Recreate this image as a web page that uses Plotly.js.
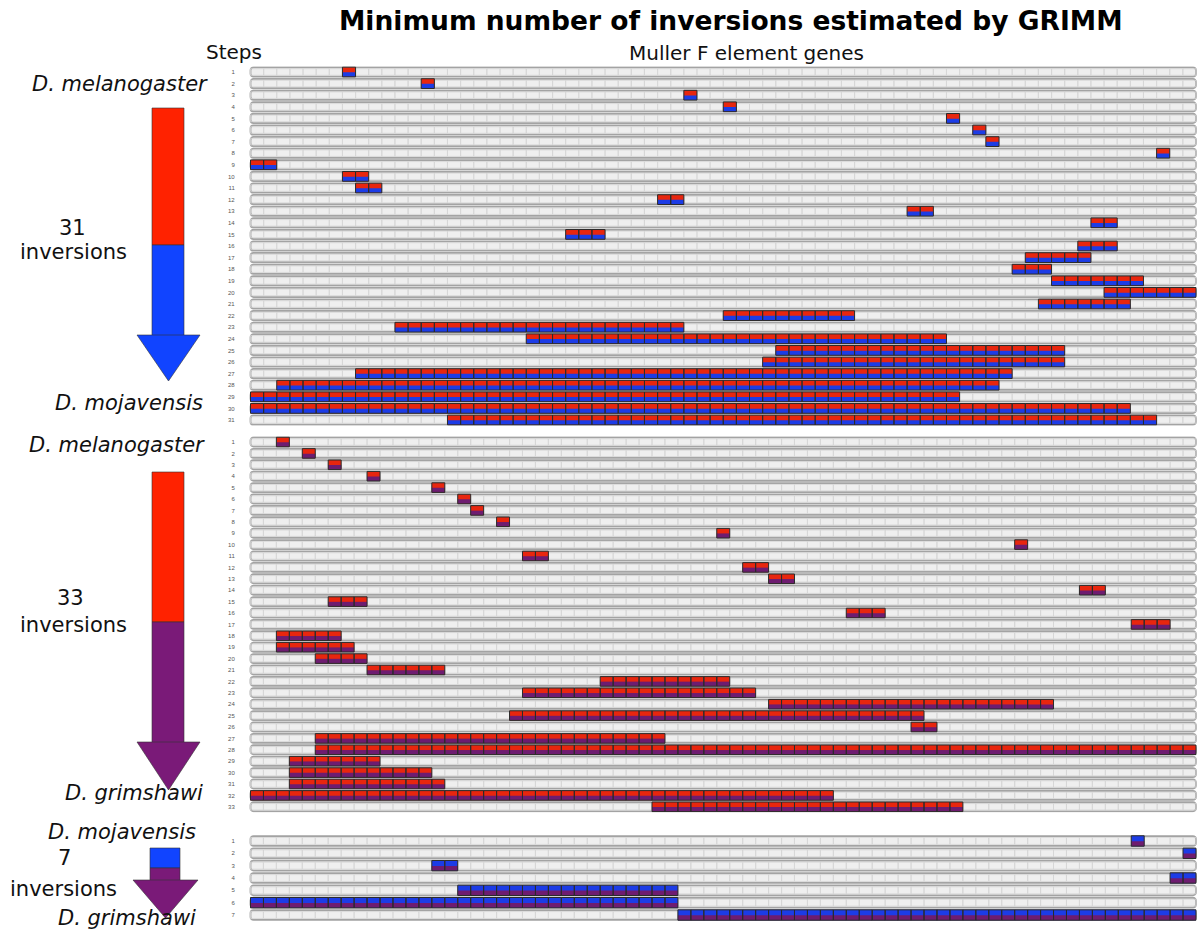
<!DOCTYPE html>
<html>
<head>
<meta charset="utf-8">
<script src="https://cdn.plot.ly/plotly-3.0.1.min.js"></script>
<style>html,body{margin:0;padding:0;background:#fff;}#chart{width:1204px;height:934px;}</style>
</head>
<body>
<div id="chart"></div>
<script>
// ---------- data ----------
const p1Genes = 72;
const p1Start = [7,13,33,36,53,55,56,69,0,7,8,31,50,64,24,63,59,58,61,65,60,36,11,21,40,39,8,2,0,0,15];
const p1Len   = [1,1,1,1,1,1,1,1,2,2,2,2,2,2,3,3,5,3,7,7,7,10,22,32,22,23,50,55,54,67,54];

const p2Genes = 73;
const p2Start = [2,4,6,9,14,16,17,19,36,59,21,38,40,64,6,46,68,2,2,5,9,27,21,40,20,51,5,5,3,3,3,0,31];
const p2Len   = [1,1,1,1,1,1,1,1,1,1,2,2,2,2,3,3,3,5,6,4,6,10,18,22,32,2,27,68,7,11,12,45,24];

const p3Genes = 73;
const p3Start = [68,72,14,71,16,0,33];
const p3Len   = [1,1,2,2,17,33,40];

const titleText = "Minimum number of inversions estimated by GRIMM";
const stepsLabel = "Steps";
const genesLabel = "Muller F element genes";

// ---------- colours ----------
const RED = '#e8260e', BLUE = '#1c3ce6', PURPLE = '#6e1c70';

const W = 1204, H = 934;
const px = x => x / W;
const py = y => 1 - y / H;
const FONT = 'DejaVu Sans, Liberation Sans, Arial, sans-serif';

const panels = [
  {genes: p1Genes, starts: p1Start, lens: p1Len, top: RED, bottom: BLUE, yTop: 66.2, yBot: 425.8},
  {genes: p2Genes, starts: p2Start, lens: p2Len, top: RED, bottom: PURPLE, yTop: 436.3, yBot: 812.5},
  {genes: p3Genes, starts: p3Start, lens: p3Len, top: BLUE, bottom: PURPLE, yTop: 834.8, yBot: 921.2}
];

const traces = [];
const layout = {
  width: W, height: H,
  margin: {l: 0, r: 0, t: 0, b: 0},
  paper_bgcolor: '#fff', plot_bgcolor: 'rgba(0,0,0,0)',
  showlegend: false, barmode: 'overlay', hovermode: false,
  font: {family: FONT, color: '#000'},
  shapes: [], annotations: []
};

const X0 = 250.5, X1 = 1196;
panels.forEach((p, k) => {
  const idx = k === 0 ? '' : String(k + 1);
  const xa = 'x' + idx, ya = 'y' + idx;
  const R = p.starts.length, N = p.genes;
  const cw = (X1 - X0) / N, pad = 0.12;
  layout['xaxis' + idx] = {
    domain: [(X0 - pad * cw) / W, (X1 + pad * cw) / W],
    range: [-pad, N + pad], anchor: ya,
    showgrid: false, zeroline: false, showticklabels: false, ticks: '', showline: false, fixedrange: true
  };
  const rows = [];
  for (let r = 1; r <= R; r++) rows.push(r);
  layout['yaxis' + idx] = {
    domain: [1 - p.yBot / H, 1 - p.yTop / H],
    range: [R + 0.5, 0.5], anchor: xa,
    tickmode: 'array', tickvals: rows, ticktext: rows.map(String),
    tickfont: {size: 6, color: '#555', family: 'Liberation Sans, Arial, sans-serif'},
    ticks: 'outside', ticklen: 12, tickcolor: 'rgba(0,0,0,0)',
    showgrid: false, zeroline: false, showline: false, fixedrange: true
  };
  // row frames
  traces.push({
    type: 'bar', orientation: 'h', xaxis: xa, yaxis: ya,
    y: rows, x: rows.map(() => N), base: rows.map(() => 0),
    width: 0.8,
    marker: {color: '#efefef', line: {color: '#a3a3a3', width: 1.8}, cornerradius: 3}
  });
  // cell grid
  const cy = [], cb = [], cx = [];
  rows.forEach(r => { for (let g = 0; g < N; g++) { cy.push(r); cb.push(g); cx.push(1); } });
  traces.push({
    type: 'bar', orientation: 'h', xaxis: xa, yaxis: ya,
    y: cy, x: cx, base: cb, width: 0.56,
    marker: {color: 'rgba(0,0,0,0)', line: {color: '#d6d6d6', width: 0.8}}
  });
  // highlighted (inverted) genes
  const hy = [], hb = [], hx = [];
  p.starts.forEach((s, i) => {
    for (let g = s; g < s + p.lens[i]; g++) { hy.push(i + 1); hb.push(g); hx.push(1); }
  });
  traces.push({
    type: 'bar', orientation: 'h', xaxis: xa, yaxis: ya,
    y: hy, x: hx, base: hb, width: 0.84, offset: -0.42,
    marker: {color: p.top, line: {width: 0}}
  });
  traces.push({
    type: 'bar', orientation: 'h', xaxis: xa, yaxis: ya,
    y: hy, x: hx, base: hb, width: 0.4, offset: 0.02,
    marker: {color: p.bottom, line: {width: 0}}
  });
  traces.push({
    type: 'bar', orientation: 'h', xaxis: xa, yaxis: ya,
    y: hy, x: hx, base: hb, width: 0.84, offset: -0.42,
    marker: {color: 'rgba(0,0,0,0)', line: {color: '#2b2b2b', width: 1}}
  });
});

// ---------- text ----------
function ann(text, x, y, opts) {
  layout.annotations.push(Object.assign({
    text: text, x: px(x), y: py(y), xref: 'paper', yref: 'paper',
    showarrow: false, xanchor: 'center', yanchor: 'middle',
    font: {size: 21, color: '#111', family: FONT}
  }, opts || {}));
}
ann('<b>' + titleText + '</b>', 731, 21, {font: {size: 26.5, color: '#000', family: FONT}});
ann(stepsLabel, 234, 52, {font: {size: 20, color: '#111', family: FONT}});
ann(genesLabel, 746, 53, {font: {size: 20, color: '#111', family: FONT}});

ann('<i>D. melanogaster</i>', 210, 84, {xanchor: 'right'});
ann('31', 72, 228);
ann('inversions', 73, 252);
ann('<i>D. mojavensis</i>', 205, 403, {xanchor: 'right'});

ann('<i>D. melanogaster</i>', 207, 445, {xanchor: 'right'});
ann('33', 70, 598);
ann('inversions', 73, 625);
ann('<i>D. grimshawi</i>', 205, 793, {xanchor: 'right'});

ann('<i>D. mojavensis</i>', 198, 832, {xanchor: 'right'});
ann('7', 64, 858);
ann('inversions', 63, 889);
ann('<i>D. grimshawi</i>', 198, 918, {xanchor: 'right'});

// ---------- arrows (decoration) ----------
function rect(x0, y0, x1, y1, color) {
  layout.shapes.push({type: 'rect', xref: 'paper', yref: 'paper',
    x0: px(x0), x1: px(x1), y0: py(y1), y1: py(y0),
    fillcolor: color, line: {color: '#333', width: 0.6}});
}
function head(xl, xr, yt, yb, color) {
  const xm = (xl + xr) / 2;
  layout.shapes.push({type: 'path', xref: 'paper', yref: 'paper',
    path: `M ${px(xl)} ${py(yt)} L ${px(xr)} ${py(yt)} L ${px(xm)} ${py(yb)} Z`,
    fillcolor: color, line: {color: '#333', width: 0.6}});
}
rect(152, 108, 184, 245, '#ff2200');
rect(152, 245, 184, 336, '#1144ff');
head(137, 200, 335, 381, '#1144ff');
rect(152, 472, 184, 622, '#ff2200');
rect(152, 622, 184, 743, '#7a1a78');
head(137, 200, 742, 790, '#7a1a78');
rect(150, 848, 180, 868, '#1144ff');
rect(150, 868, 180, 881, '#7a1a78');
head(133, 198, 880, 918, '#7a1a78');

Plotly.newPlot('chart', traces, layout, {staticPlot: true, displayModeBar: false});
</script>
</body>
</html>
